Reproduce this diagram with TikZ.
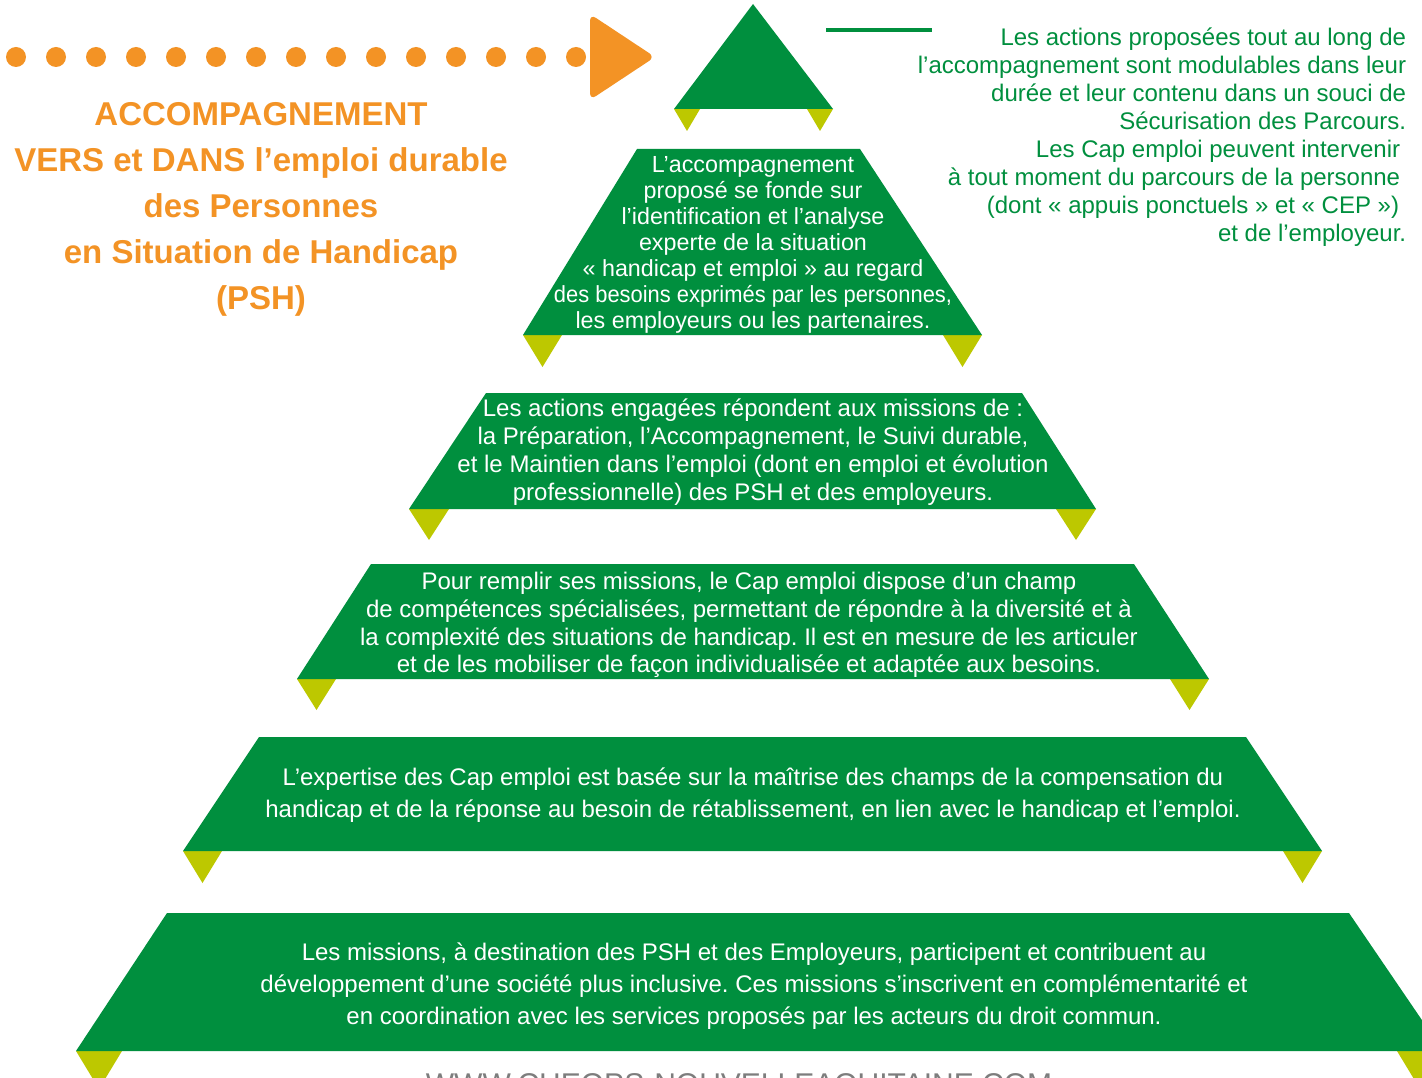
\documentclass[tikz,border=0pt]{standalone}
\usepackage{fontspec}
\setmainfont{Liberation Sans}
\usepackage{graphicx}
\frenchspacing
\definecolor{vertcap}{RGB}{0,143,62}
\definecolor{jaunecap}{RGB}{189,200,0}
\definecolor{orangecap}{RGB}{243,147,37}
\definecolor{grisurl}{RGB}{125,125,125}
\tikzset{
  etage/.style={fill=vertcap},
  fanion/.style={fill=jaunecap},
  texteblanc/.style={text=white, align=center, inner sep=0pt},
}
% one green band: (top left, top right, top y)(bottom left, bottom right, bottom y)
\def\etage(#1,#2,#3)(#4,#5,#6){\fill[etage] (#1,#3) -- (#2,#3) -- (#5,#6) -- (#4,#6) -- cycle;}
% yellow tips under both bottom corners: (left, right, y)(width, height)
\def\fanions(#1,#2,#3)(#4,#5){\fill[fanion] (#1,#3) -- ++(#4,0) -- ++({-#4/2},#5) -- cycle;
  \fill[fanion] (#2,#3) -- ++(-#4,0) -- ++({#4/2},#5) -- cycle;}

\begin{document}
\begin{tikzpicture}[x=1pt, y=-1pt]
			%%%%% START %%%%%
			\useasboundingbox[fill=white] (0,0) rectangle (1422,1078);
			
			% dotted arrow
			\foreach \i in {0,...,14}
				\fill[orangecap] ({16+40*\i},57) circle (10);
			\fill[orangecap, rounded corners=7] (590,14) -- (655,57) -- (590,100) -- cycle;
			
			\node[font=\fontsize{33}{46}\selectfont\bfseries, text=orangecap, align=center] (titre) at (261,209.5)
				{ACCOMPAGNEMENT\\ VERS et DANS l’emploi durable\\ des Personnes\\ en Situation de Handicap\\ (PSH)};
			
			% top of the pyramid
			\fanions(674,833,109)(26,22)
			\fill[etage] (753,4) -- (833,109) -- (674,109) -- cycle;
			\draw[vertcap, line width=4pt] (826,30) -- (932,30);
			
			\node[font=\fontsize{24}{28}\selectfont, text=vertcap, align=right, inner sep=0pt] (actions) at (1162,137)
				{Les actions proposées tout au long de\\
				 l’accompagnement sont modulables dans leur\\
				 durée et leur contenu dans un souci de\\
				 Sécurisation des Parcours.\\
				 Les Cap emploi peuvent intervenir\kern6pt\\
				 à tout moment du parcours de la personne\kern6pt\\
				 (dont «~appuis ponctuels~» et «~CEP~»)\kern7pt\\
				 et de l’employeur.};
			
			% bands
			\fanions(523,982,335)(39,32)
			\etage(637,860,149)(523,982,335)
			\node[texteblanc, font=\fontsize{23.3}{26}\selectfont] (fonde) at (753,245)
				{L’accompagnement\\ proposé se fonde sur\\ l’identification et l’analyse\\ experte de la situation\\
				 «~handicap et emploi~» au regard\\ \scalebox{0.94}[1]{des besoins exprimés par les personnes,}\\
				 les employeurs ou les partenaires.};
			
			\fanions(409,1096,509)(40,31)
			\etage(486,1022,393)(409,1096,509)
			\node[texteblanc, font=\fontsize{24}{28}\selectfont] (missions) at (753,452)
				{Les actions engagées répondent aux missions de :\\
				 la Préparation, l’Accompagnement, le Suivi durable,\\
				 et le Maintien dans l’emploi (dont en emploi et évolution\\
				 professionnelle) des PSH et des employeurs.};
			
			\fanions(297,1209,679)(39,31)
			\etage(371,1134,564)(297,1209,679)
			\node[texteblanc, font=\fontsize{24}{27.7}\selectfont] (competences) at (749,625)
				{Pour remplir ses missions, le Cap emploi dispose d’un champ\\
				 de compétences spécialisées, permettant de répondre à la diversité et à\\
				 la complexité des situations de handicap. Il est en mesure de les articuler\\
				 et de les mobiliser de façon individualisée et adaptée aux besoins.};
			
			\fanions(183,1322,851)(39,32)
			\etage(259,1246,737)(183,1322,851)
			\node[texteblanc, font=\fontsize{24}{32}\selectfont] (expertise) at (753,795)
				{L’expertise des Cap emploi est basée sur la maîtrise des champs de la compensation du\\
				 handicap et de la réponse au besoin de rétablissement, en lien avec le handicap et l’emploi.};
			
			\fanions(76,1443,1051)(46,38)
			\etage(167,1349,913)(76,1443,1051)
			\node[texteblanc, font=\fontsize{24}{32}\selectfont] (societe) at (754,986)
				{Les missions, à destination des PSH et des Employeurs, participent et contribuent au\\
				 développement d’une société plus inclusive. Ces missions s’inscrivent en complémentarité et\\
				 en coordination avec les services proposés par les acteurs du droit commun.};
			
			\node[font=\fontsize{30}{30}\selectfont, text=grisurl, anchor=base, inner sep=0pt] (site) at (739,1094)
				{WWW.CHEOPS-NOUVELLEAQUITAINE.COM};
			%%%%% END %%%%%
\end{tikzpicture}
\end{document}
